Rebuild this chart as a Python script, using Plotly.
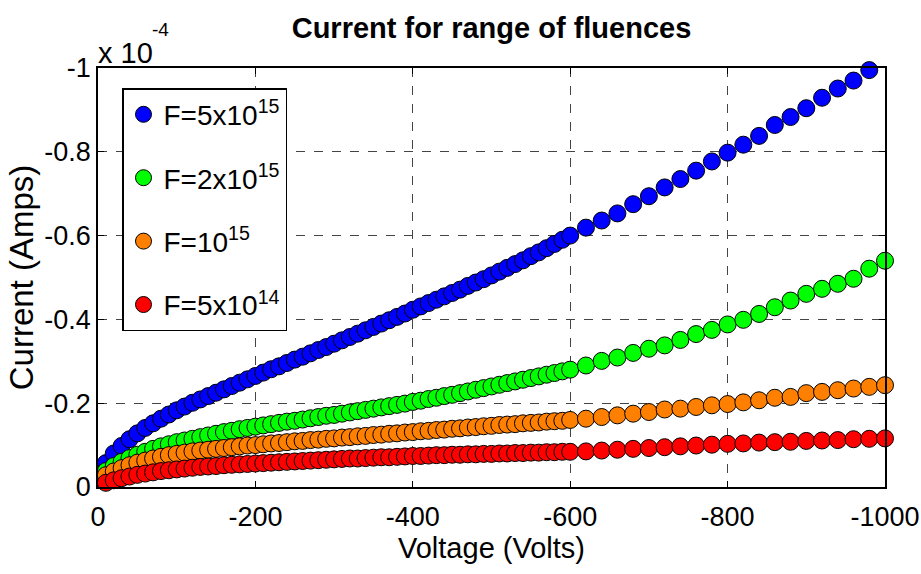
import plotly.graph_objects as go

# Voltage grid (V): 10 V steps to -600 V, then 20 V steps to -1000 V
volt_low = list(range(-10, -610, -10))
volt_high = list(range(-620, -1020, -20))

# Current magnitudes in units of 1e-4 A (plotted as negative currents)
blue_low = [0.057, 0.080, 0.098, 0.114, 0.128, 0.141, 0.152, 0.163, 0.173, 0.183,
            0.192, 0.201, 0.209, 0.217, 0.225, 0.233, 0.241, 0.249, 0.257, 0.265,
            0.273, 0.281, 0.288, 0.296, 0.304, 0.311, 0.319, 0.327, 0.334, 0.342,
            0.350, 0.358, 0.366, 0.374, 0.382, 0.390, 0.398, 0.406, 0.414, 0.423,
            0.431, 0.439, 0.447, 0.455, 0.463, 0.471, 0.480, 0.488, 0.496, 0.505,
            0.514, 0.523, 0.532, 0.541, 0.551, 0.560, 0.570, 0.580, 0.590, 0.600]
blue_high = [0.619, 0.636, 0.653, 0.675, 0.694, 0.715, 0.735, 0.755, 0.777, 0.798,
             0.817, 0.838, 0.864, 0.883, 0.904, 0.929, 0.951, 0.970, 0.995]

green_low = [0.038, 0.050, 0.060, 0.069, 0.077, 0.084, 0.091, 0.097, 0.102, 0.107,
             0.111, 0.115, 0.119, 0.123, 0.127, 0.131, 0.134, 0.138, 0.141, 0.144,
             0.147, 0.150, 0.153, 0.156, 0.158, 0.161, 0.164, 0.167, 0.170, 0.172,
             0.175, 0.178, 0.181, 0.184, 0.187, 0.190, 0.193, 0.196, 0.199, 0.203,
             0.206, 0.210, 0.213, 0.217, 0.220, 0.224, 0.228, 0.232, 0.236, 0.240,
             0.244, 0.248, 0.252, 0.256, 0.260, 0.264, 0.268, 0.272, 0.276, 0.280]
green_high = [0.290, 0.301, 0.309, 0.320, 0.330, 0.338, 0.351, 0.365, 0.375, 0.388,
              0.399, 0.413, 0.429, 0.445, 0.461, 0.473, 0.485, 0.497, 0.521, 0.540]

orange_low = [0.028, 0.037, 0.045, 0.052, 0.058, 0.063, 0.068, 0.072, 0.076, 0.079,
              0.082, 0.085, 0.087, 0.089, 0.091, 0.093, 0.095, 0.097, 0.099, 0.100,
              0.102, 0.104, 0.105, 0.107, 0.109, 0.110, 0.112, 0.113, 0.115, 0.116,
              0.118, 0.119, 0.121, 0.122, 0.124, 0.125, 0.127, 0.128, 0.130, 0.131,
              0.133, 0.134, 0.136, 0.137, 0.139, 0.140, 0.142, 0.143, 0.145, 0.146,
              0.148, 0.149, 0.150, 0.152, 0.153, 0.154, 0.156, 0.157, 0.158, 0.160]
orange_high = [0.163, 0.167, 0.171, 0.175, 0.179, 0.185, 0.187, 0.191, 0.195, 0.198,
               0.202, 0.207, 0.213, 0.215, 0.224, 0.227, 0.231, 0.235, 0.239, 0.243]

red_low = [0.010, 0.016, 0.021, 0.025, 0.029, 0.032, 0.035, 0.038, 0.040, 0.042,
           0.044, 0.046, 0.048, 0.049, 0.050, 0.052, 0.053, 0.054, 0.055, 0.056,
           0.057, 0.058, 0.059, 0.060, 0.061, 0.062, 0.063, 0.064, 0.065, 0.066,
           0.067, 0.068, 0.068, 0.069, 0.070, 0.071, 0.071, 0.072, 0.073, 0.074,
           0.074, 0.075, 0.076, 0.076, 0.077, 0.077, 0.078, 0.078, 0.079, 0.079,
           0.080, 0.080, 0.081, 0.081, 0.082, 0.082, 0.083, 0.083, 0.084, 0.084]
red_high = [0.085, 0.087, 0.089, 0.091, 0.093, 0.095, 0.097, 0.099, 0.101, 0.103,
            0.104, 0.106, 0.107, 0.108, 0.110, 0.111, 0.112, 0.114, 0.115, 0.116]

series_names = ["F=5x10<sup>15</sup>", "F=2x10<sup>15</sup>", "F=10<sup>15</sup>", "F=5x10<sup>14</sup>"]
series_colors = ["#0000FF", "#00FF00", "#FF8000", "#FF0000"]
series_low = [blue_low, green_low, orange_low, red_low]
series_high = [blue_high, green_high, orange_high, red_high]

x_ticks = [0, -200, -400, -600, -800, -1000]
x_ticktext = ["0", "-200", "-400", "-600", "-800", "-1000"]
y_ticks = [0, -0.2, -0.4, -0.6, -0.8, -1]
y_ticktext = ["0", "-0.2", "-0.4", "-0.6", "-0.8", "-1"]

FONT = "Arial, Liberation Sans, sans-serif"

fig = go.Figure()
for name, color, lo, hi in zip(series_names, series_colors, series_low, series_high):
    xs = volt_low + volt_high[:len(hi)]
    ys = [-v for v in lo + hi]
    fig.add_trace(go.Scatter(
        x=xs, y=ys, mode="markers", name=name, legendgroup=name,
        cliponaxis=False,
        marker=dict(size=17, color=color, line=dict(color="black", width=1)),
    ))

axis_common = dict(
    showline=True, linecolor="black", linewidth=1.5, mirror="ticks",
    ticks="inside", ticklen=6, tickcolor="black", tickwidth=1,
    showgrid=True, gridcolor="#444444", griddash="dash", gridwidth=1,
    zeroline=False, automargin=False,
    tickfont=dict(family=FONT, size=27, color="black"),
)

fig.update_xaxes(
    range=[0, -1000], tickvals=x_ticks, ticktext=x_ticktext, ticklabelstandoff=5,
    title=dict(text="Voltage (Volts)", font=dict(family=FONT, size=29, color="black"), standoff=6),
    **axis_common,
)
fig.update_yaxes(
    range=[0, -1], tickvals=y_ticks, ticktext=y_ticktext,
    title=dict(text="Current (Amps)", font=dict(family=FONT, size=33, color="black"), standoff=1),
    **axis_common,
)

# axis exponent label "x 10^-4" (MATLAB style, exponent raised high)
fig.add_annotation(
    text="x 10", xref="paper", yref="paper", x=0, y=1,
    xanchor="left", yanchor="middle", showarrow=False, yshift=15, xshift=-2,
    font=dict(family=FONT, size=29, color="black"),
)
fig.add_annotation(
    text="-4", xref="paper", yref="paper", x=0, y=1,
    xanchor="center", yanchor="middle", showarrow=False, yshift=39, xshift=62,
    font=dict(family=FONT, size=19, color="black"),
)

fig.update_layout(
    width=921, height=574,
    margin=dict(l=98, r=36, t=68, b=87),
    paper_bgcolor="white", plot_bgcolor="white",
    title=dict(text="<b>Current for range of fluences</b>", x=0.5, xref="paper",
               y=1 - 28 / 574, yref="container", xanchor="center", yanchor="middle",
               font=dict(family=FONT, size=29, color="black")),
    legend=dict(
        x=0.0305, y=0.952, xanchor="left", yanchor="top",
        bgcolor="white", bordercolor="black", borderwidth=1.5,
        font=dict(family=FONT, size=28, color="black"),
        tracegroupgap=24, itemsizing="trace",
    ),
    showlegend=True,
)

# remove the browser's default 8 px body margin so the 921x574 figure fills the window exactly
fig.write_html("out.html", config={"displayModeBar": False},
               post_script="document.body.style.margin='0';")
